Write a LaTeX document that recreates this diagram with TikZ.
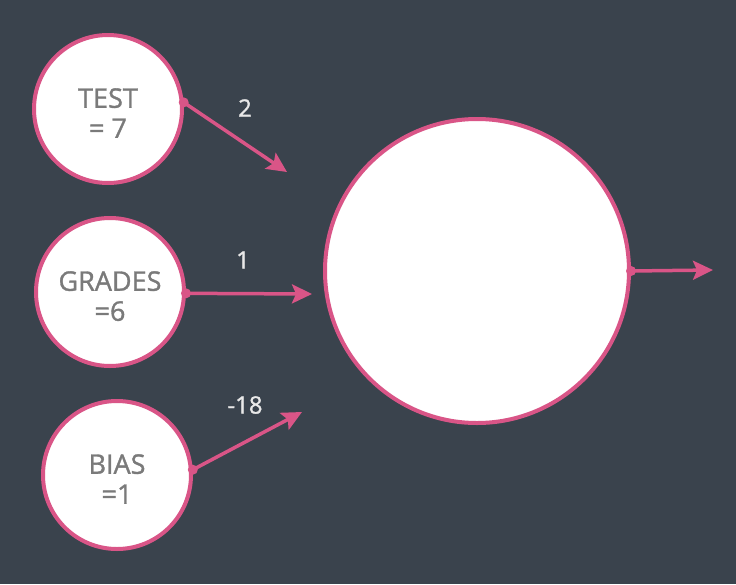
\documentclass[tikz,border=0pt]{standalone}
\usepackage{fontspec}
\setmainfont{Open Sans}
\newfontfamily\semib[FakeBold=1.2]{Open Sans}
\usetikzlibrary{arrows.meta}
\definecolor{bg}{HTML}{3A434D}
\definecolor{pinkc}{HTML}{D95587}
\definecolor{txtgray}{HTML}{7A7A7A}
\definecolor{lbl}{HTML}{E8E8E8}
\newcommand{\twoline}[2]{\raisebox{-14pt}[0pt][0pt]{\begin{tabular}{@{}c@{}}#1\\#2\end{tabular}}}
\tikzset{
  inpnode/.style={circle, draw=pinkc, line width=4pt, fill=white, minimum size=148pt, inner sep=0pt,
    text=txtgray, align=center, font=\semib\fontsize{27}{30}\selectfont},
  bignode/.style={circle, draw=pinkc, line width=4pt, fill=white, minimum size=304pt, inner sep=0pt},
  wire/.style={draw=pinkc, line width=3.5pt, -{Stealth[length=20pt,width=19pt,inset=4pt]}},
  startdot/.style={circle, fill=pinkc, inner sep=0pt, minimum size=10pt},
  wlabel/.style={text=lbl, font=\semib\fontsize{24}{28}\selectfont}
}
\begin{document}
\begin{tikzpicture}[x=1pt,y=-1pt]
\fill[bg] (0,0) rectangle (736,584);
\useasboundingbox (0,0) rectangle (736,584);
\node[inpnode] (test) at (108,109) {\twoline{TEST}{= 7}};
\node[inpnode] (grades) at (110,292) {\twoline{GRADES}{=6}};
\node[inpnode] (bias) at (117,475) {\twoline{BIAS}{=1}};
\node[bignode] (out) at (477,271) {};
\coordinate (tend) at (287,172);
\coordinate (gend) at (312,294);
\coordinate (bend) at (302,412);
\coordinate (oend) at (713,270);
\draw[wire] (test.5) -- (tend);
\draw[wire] (grades.-1) -- (gend);
\draw[wire] (bias.4) -- (bend);
\draw[wire] (out.0) -- (oend);
\node[startdot] at (test.5) {};
\node[startdot] at (grades.-1) {};
\node[startdot] at (bias.4) {};
\node[startdot] at (out.0) {};
\node[wlabel] (l2) at (245,108) {2};
\node[wlabel] (l1) at (243,260) {1};
\node[wlabel] (l18) at (245,405) {-18};
\end{tikzpicture}
\end{document}
